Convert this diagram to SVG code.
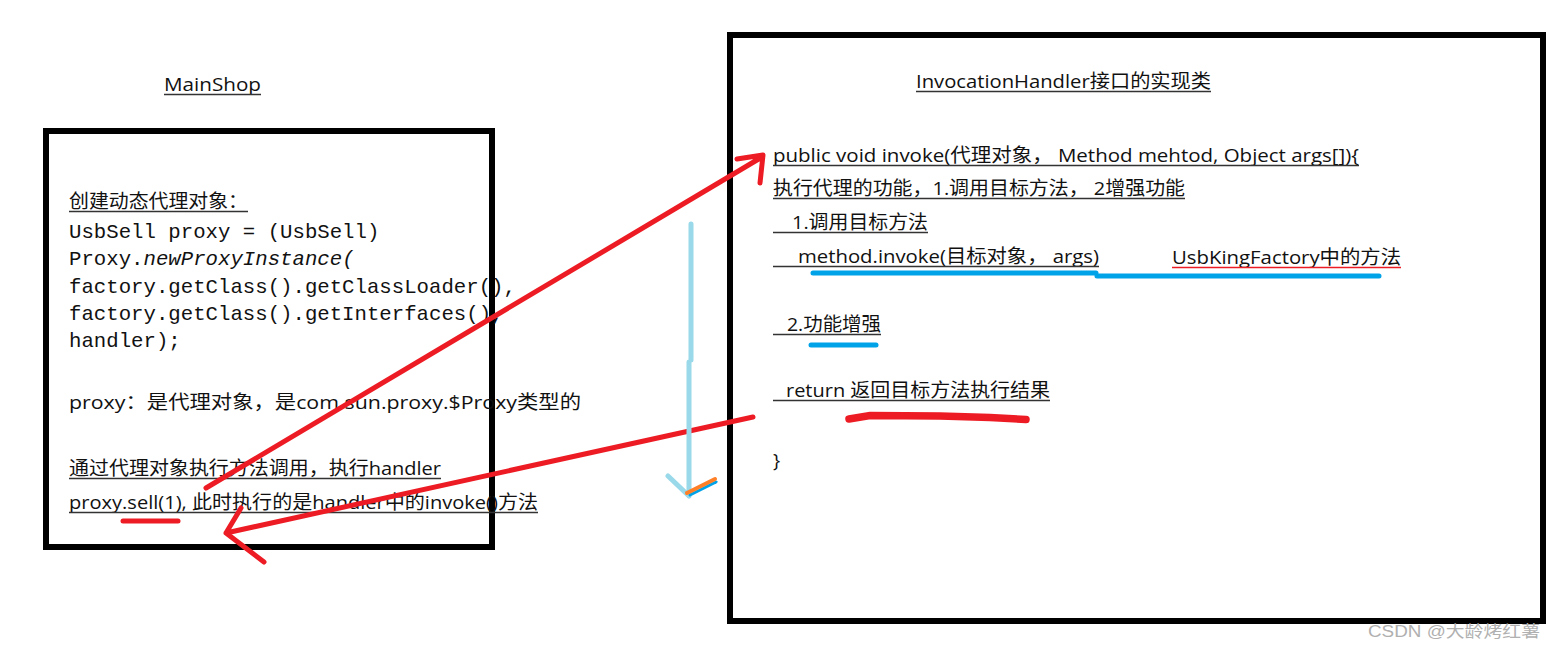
<svg xmlns="http://www.w3.org/2000/svg" width="1555" height="651" viewBox="0 0 1555 651">
<style>
.box{fill:none;stroke:#000;stroke-width:6}
.t{font-family:"Open Sans","Noto Sans CJK SC",sans-serif;font-size:19px;fill:#111}
.m{font-family:"Liberation Mono","DejaVu Sans Mono",monospace;font-size:20.7px;fill:#111}
.u{stroke:#333;stroke-width:1.3}
.red{stroke:#ed1c24;stroke-width:5;fill:none;stroke-linecap:round;stroke-linejoin:round}
.blue{stroke:#00a2e8;stroke-width:5;fill:none;stroke-linecap:round}
</style>
<rect width="1555" height="651" fill="#fff"/>
<g id="mainshop">
<text class="t" x="164" y="91" font-size="20" textLength="97" lengthAdjust="spacingAndGlyphs">MainShop</text>
<line class="u" x1="164" y1="94.5" x2="261" y2="94.5"/>
<rect class="box" x="46" y="131" width="446" height="416"/>
<text class="t" x="69" y="208" textLength="179" lengthAdjust="spacingAndGlyphs">创建动态代理对象：</text>
<line class="u" x1="69" y1="211.5" x2="248" y2="211.5"/>
<text class="m" x="69" y="238">UsbSell proxy = (UsbSell)</text>
<text class="m" x="69" y="265">Proxy.<tspan font-style="italic">newProxyInstance(</tspan></text>
<text class="m" x="69" y="293">factory.getClass().getClassLoader(),</text>
<text class="m" x="69" y="320">factory.getClass().getInterfaces(),</text>
<text class="m" x="69" y="347">handler);</text>
<text class="t" x="69" y="409" font-size="20" textLength="512" lengthAdjust="spacingAndGlyphs">proxy：是代理对象，是com.sun.proxy.$Proxy类型的</text>
<text class="t" x="69" y="475" textLength="372" lengthAdjust="spacingAndGlyphs">通过代理对象执行方法调用，执行handler</text>
<line class="u" x1="69" y1="478.5" x2="441" y2="478.5"/>
<text class="t" x="69" y="509" textLength="469" lengthAdjust="spacingAndGlyphs">proxy.sell(1), 此时执行的是handler中的invoke()方法</text>
<line class="u" x1="69" y1="512.5" x2="538" y2="512.5"/>
<line class="red" x1="123" y1="521" x2="178" y2="521" stroke-width="4.5"/>
</g>
<g id="invocation-handler">
<rect class="box" x="730" y="35" width="813" height="586"/>
<text class="t" x="916" y="88" textLength="295" lengthAdjust="spacingAndGlyphs">InvocationHandler接口的实现类</text>
<line class="u" x1="916" y1="91.5" x2="1211" y2="91.5"/>
<text class="t" x="773" y="162" textLength="586" lengthAdjust="spacingAndGlyphs">public void invoke(代理对象， Method mehtod, Object args[]){</text>
<line class="u" x1="773" y1="165.5" x2="1359" y2="165.5"/>
<text class="t" x="773" y="195" textLength="412" lengthAdjust="spacingAndGlyphs">执行代理的功能，1.调用目标方法， 2增强功能</text>
<line class="u" x1="773" y1="198.5" x2="1185" y2="198.5"/>
<text class="t" x="792" y="229" textLength="136" lengthAdjust="spacingAndGlyphs">1.调用目标方法</text>
<line class="u" x1="773" y1="232.5" x2="928" y2="232.5"/>
<text class="t" x="798" y="263" textLength="301" lengthAdjust="spacingAndGlyphs">method.invoke(目标对象， args)</text>
<line class="u" x1="773" y1="266.5" x2="1099" y2="266.5"/>
<text class="t" x="1172" y="264" textLength="229" lengthAdjust="spacingAndGlyphs" fill="#ed1c24">UsbKingFactory中的方法</text>
<line x1="1172" y1="267.5" x2="1401" y2="267.5" stroke="#ed1c24" stroke-width="1.3"/>
<path class="blue" d="M813,273 L1096,273 M1097,276 L1379,276"/>
<text class="t" x="787" y="331" textLength="94" lengthAdjust="spacingAndGlyphs">2.功能增强</text>
<line class="u" x1="773" y1="334.5" x2="881" y2="334.5"/>
<line class="blue" x1="811" y1="345" x2="876" y2="345"/>
<text class="t" x="786" y="397" textLength="264" lengthAdjust="spacingAndGlyphs">return 返回目标方法执行结果</text>
<line class="u" x1="773" y1="400.5" x2="1050" y2="400.5"/>
<path d="M849,419 L870,415.5 L940,416 L990,417.5 L1026,419.5" stroke="#ed1c24" stroke-width="7.5" fill="none" stroke-linecap="round"/>
<text class="t" x="773" y="467" font-size="20">}</text>
</g>
<g id="connectors">
<path class="red" d="M206,488 L762,157 M737,159 L763,155 L760,183"/>
<path class="red" d="M753,417 L226,533 M241,508 L226,533 L264,562"/>
<path d="M691,224 L691,360 M689,362 L689,496 M668,476 L689,496" stroke="#99d9ea" stroke-width="5" fill="none" stroke-linecap="round"/>
<line x1="690" y1="495" x2="716" y2="482" stroke="#00a2e8" stroke-width="3" stroke-linecap="round"/>
<line x1="687" y1="493" x2="715" y2="479" stroke="#ff7f27" stroke-width="4" stroke-linecap="round"/>
</g>
<text x="1368" y="637" font-family="'Liberation Sans','Noto Sans CJK SC',sans-serif" font-size="16" fill="#b0b0b0" textLength="172" lengthAdjust="spacingAndGlyphs">CSDN @大龄烤红薯</text>
</svg>
